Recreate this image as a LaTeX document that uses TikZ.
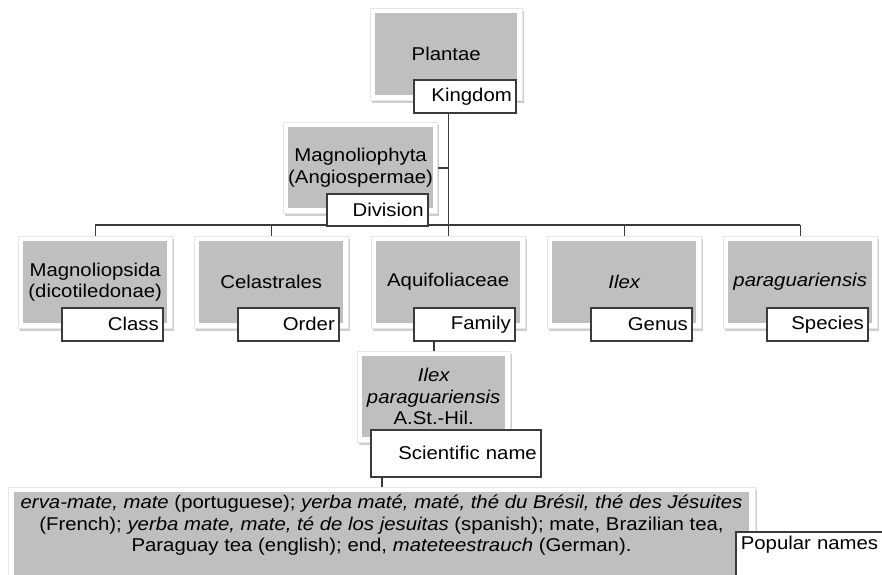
\documentclass[tikz,border=0pt]{standalone}
\usepackage{fontspec}
\setmainfont{Liberation Sans}[FakeStretch=1.1]
\usetikzlibrary{shadows,backgrounds}
\definecolor{cellgray}{HTML}{BFBFBF}
\definecolor{edgegray}{HTML}{3A3A3A}
\newcommand{\cellfont}{\fontsize{18.5}{21.5}\selectfont}
\begin{document}
\begin{tikzpicture}[x=1pt,y=-1pt,
  frame/.style={fill=white, draw=black!10, line width=0.8pt, inner sep=0pt, anchor=north west,
    drop shadow={shadow xshift=1.5pt, shadow yshift=-2.5pt, opacity=0.35, fill=black!55}},
  cell/.style={fill=cellgray, inner sep=0pt, anchor=north west, align=center, font=\cellfont},
  tag/.style={draw=edgegray, line width=1.6pt, fill=white, inner sep=0pt, inner xsep=4pt,
    anchor=north west, align=right, font=\cellfont},
  link/.style={draw=edgegray, line width=1.6pt},
  kid/.style={minimum width=154pt, minimum height=92pt},
  kidcell/.style={minimum width=144pt, minimum height=82pt},
  kidtag/.style={minimum width=101pt, minimum height=33pt, text width=93pt}
]
\useasboundingbox (0,0) rectangle (882,574);
\clip (0,0) rectangle (882,574);

% Kingdom
\node[frame, minimum width=152pt, minimum height=92pt] (plantaeF) at (370,8) {};
\node[cell, minimum width=142pt, minimum height=82pt] (plantae) at (375,13) {Plantae};
\node[tag, minimum width=102pt, minimum height=33pt, text width=94pt] (kingdom) at (413,79) {Kingdom};

% Division
\node[frame, minimum width=154pt, minimum height=91pt] (magF) at (283,122) {};
\node[cell, minimum width=144pt, minimum height=81pt] (mag) at (288,127) {Magnoliophyta\\(Angiospermae)};
\node[tag, minimum width=101pt, minimum height=32pt, text width=93pt] (division) at (326,193) {Division};

% Class .. Species
\node[frame, kid] (classF) at (18,236) {};
\node[cell, kidcell] (class) at (23,241) {Magnoliopsida\\(dicotiledonae)};
\node[tag, kidtag] (classT) at (61,307) {Class};

\node[frame, kid] (orderF) at (194,236) {};
\node[cell, kidcell] (order) at (199,241) {Celastrales};
\node[tag, kidtag] (orderT) at (237,307) {Order};

\node[frame, kid] (familyF) at (371,236) {};
\node[cell, kidcell] (family) at (376,241) {Aquifoliaceae};
\node[tag, kidtag] (familyT) at (413,307) {Family};

\node[frame, kid] (genusF) at (547,236) {};
\node[cell, kidcell] (genus) at (552,241) {\itshape Ilex};
\node[tag, kidtag] (genusT) at (590,307) {Genus};

\node[frame, kid] (speciesF) at (723,236) {};
\node[cell, kidcell] (species) at (728,241) {\itshape paraguariensis};
\node[tag, kidtag] (speciesT) at (766,307) {Species};

% Scientific name
\node[frame, minimum width=153pt, minimum height=91pt] (sciF) at (357,351) {};
\node[cell, minimum width=143pt, minimum height=81pt] (sci) at (362,356) {\itshape Ilex\\\itshape paraguariensis\\A.St.-Hil.};
\node[tag, minimum width=170pt, minimum height=47pt, text width=162pt] (sciT) at (370,429) {Scientific name};

% Popular names
\node[frame, minimum width=747pt, minimum height=120pt] (popF) at (8,487) {};
\node[cell, minimum width=735pt, minimum height=110pt] (pop) at (14,492) {};
\node[font=\cellfont, align=center, inner sep=0pt] (popText) at (381.5,525.5)
  {{\itshape erva-mate, mate} (portuguese); {\itshape yerba maté, maté, thé du Brésil, thé des Jésuites}\\
   (French); {\itshape yerba mate, mate, té de los jesuitas} (spanish); mate, Brazilian tea,\\
   Paraguay tea (english); end, {\itshape mateteestrauch} (German).};
\node[tag, align=left, minimum width=160pt, text width=150pt, inner xsep=5pt, inner ysep=4pt,
  text height=14pt, text depth=50pt] (popT) at (735,531) {Popular names};

\begin{scope}[on background layer]
  \coordinate (bar) at (0,225);
  \draw[link] (kingdom.south -| familyF.north) -- (familyF.north);
  \draw[link] (magF.east) -- (magF.east -| familyF.north);
  \draw[link] (classF.north |- bar) -- (speciesF.north |- bar);
  \foreach \f in {classF,orderF,genusF,speciesF}
    \draw[link] (\f.north |- bar) -- (\f.north);
  \draw[link] (sciF.north |- familyT.south) -- (sciF.north);
  \draw[link] (popF.north |- sciT.south) -- (popF.north);
\end{scope}
\end{tikzpicture}
\end{document}
